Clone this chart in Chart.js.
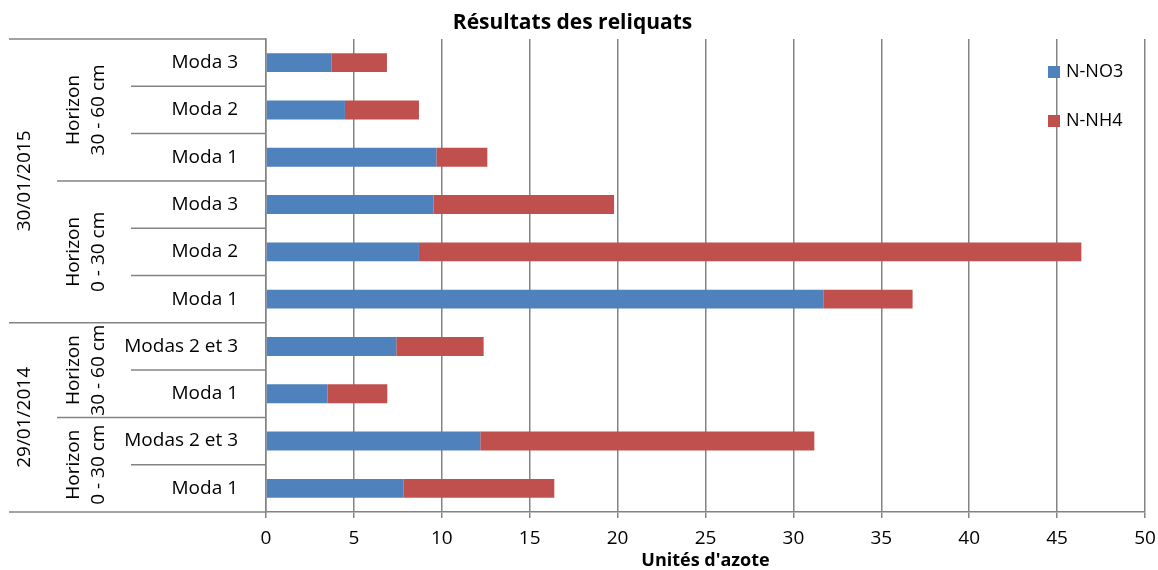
<!DOCTYPE html>
<html>
<head>
<meta charset="utf-8">
<script src="https://cdn.jsdelivr.net/npm/chart.js@4.4.0/dist/chart.umd.min.js"></script>
<style>
  body { margin: 0; background: #fff; }
  #wrap { width: 1158px; height: 570px; }
</style>
</head>
<body>
<div id="wrap"><canvas id="chart"></canvas></div>
<script>
// Données (de haut en bas)
const categories = ['Moda 3', 'Moda 2', 'Moda 1', 'Moda 3', 'Moda 2', 'Moda 1',
  'Modas 2 et 3', 'Moda 1', 'Modas 2 et 3', 'Moda 1'];
const no3 = [3.74, 4.49, 9.69, 9.52, 8.70, 31.70, 7.41, 3.49, 12.19, 7.81];
const nh4 = [3.14, 4.21, 2.90, 10.28, 37.68, 5.08, 4.97, 3.41, 19.00, 8.59];

// Niveaux de regroupement de l'axe vertical
const horizonLabels = [['Horizon', '30 - 60 cm'], ['Horizon', '0 - 30 cm'], ['Horizon', '30 - 60 cm'], ['Horizon', '0 - 30 cm']];
const horizonCounts = [3, 3, 2, 2];
const dateLabels = ['30/01/2015', '29/01/2014'];
const dateCounts = [6, 4];

const xTicks = [0, 5, 10, 15, 20, 25, 30, 35, 40, 45, 50];

const FONT = 'Open Sans';
const GRID = '#838383';

// Étiquettes multi-niveaux + légende
const groupPlugin = {
  id: 'groupLabels',
  afterDraw(chart) {
    const ctx = chart.ctx;
    const area = chart.chartArea;
    const rowH = (area.bottom - area.top) / categories.length;
    const axisX = area.left;

    ctx.save();
    ctx.strokeStyle = GRID;
    ctx.lineWidth = 1.5;

    function hline(y, x0) {
      ctx.beginPath();
      ctx.moveTo(x0, y);
      ctx.lineTo(axisX, y);
      ctx.stroke();
    }

    // lignes de séparation
    const dateBounds = [0];
    dateCounts.forEach(c => dateBounds.push(dateBounds[dateBounds.length - 1] + c));
    const horBounds = [0];
    horizonCounts.forEach(c => horBounds.push(horBounds[horBounds.length - 1] + c));

    for (let i = 0; i <= categories.length; i++) {
      const y = area.top + i * rowH;
      if (dateBounds.includes(i)) hline(y, 9);
      else if (horBounds.includes(i)) hline(y, 57);
      else hline(y, 131);
    }

    ctx.fillStyle = '#000';
    ctx.font = '19px "' + FONT + '"';
    ctx.textAlign = 'center';
    ctx.textBaseline = 'middle';

    // horizons
    let start = 0;
    horizonLabels.forEach((lines, k) => {
      const cy = area.top + (start + horizonCounts[k] / 2) * rowH;
      ctx.save();
      ctx.translate(86, cy);
      ctx.rotate(-Math.PI / 2);
      ctx.fillText(lines[0], 0, -12.5);
      ctx.fillText(lines[1], 0, 12.5);
      ctx.restore();
      start += horizonCounts[k];
    });

    // dates
    start = 0;
    dateLabels.forEach((d, k) => {
      const cy = area.top + (start + dateCounts[k] / 2) * rowH;
      ctx.save();
      ctx.translate(25, cy);
      ctx.rotate(-Math.PI / 2);
      ctx.fillText(d, 0, 0);
      ctx.restore();
      start += dateCounts[k];
    });

    // légende
    const legY = [72, 121];
    ctx.font = '18px "' + FONT + '"';
    ctx.textAlign = 'left';
    chart.data.datasets.forEach((ds, i) => {
      ctx.fillStyle = ds.backgroundColor;
      ctx.fillRect(1048, legY[i] - 6, 12, 12);
      ctx.fillStyle = '#000';
      ctx.fillText(ds.label, 1066, legY[i]);
    });

    ctx.restore();
  }
};

new Chart(document.getElementById('chart'), {
  type: 'bar',
  data: {
    labels: categories,
    datasets: [
      { label: 'N-NO3', data: no3, backgroundColor: '#4F81BD', borderWidth: 0 },
      { label: 'N-NH4', data: nh4, backgroundColor: '#C0504D', borderWidth: 0 }
    ]
  },
  options: {
    indexAxis: 'y',
    responsive: true,
    maintainAspectRatio: false,
    animation: false,
    layout: { padding: { left: 0, right: 13, top: 0, bottom: 0 } },
    datasets: { bar: { barPercentage: 0.4, categoryPercentage: 1 } },
    plugins: {
      legend: { display: false },
      tooltip: { enabled: false },
      title: {
        display: true,
        text: 'Résultats des reliquats',
        color: '#000',
        font: { family: FONT, size: 21, weight: 'bold' },
        padding: { top: 10, bottom: 3.8 }
      }
    },
    scales: {
      x: {
        stacked: true,
        min: 0,
        max: 50,
        afterBuildTicks: s => { s.ticks = xTicks.map(v => ({ value: v })); },
        afterFit: s => { s.height = 58; s.paddingRight = 0; s.paddingLeft = 0; },
        grid: { color: GRID, lineWidth: 1.5, tickLength: 6 },
        border: { display: true, color: GRID, width: 1.5 },
        ticks: { color: '#000', padding: 9, font: { family: FONT, size: 19 } },
        title: {
          display: true,
          text: "Unités d'azote",
          color: '#000',
          font: { family: FONT, size: 18, weight: 'bold', lineHeight: 1 },
          padding: { top: 0, bottom: 0 }
        }
      },
      y: {
        stacked: true,
        afterFit: s => { s.width = 266; },
        grid: { display: false },
        border: { display: true, color: GRID, width: 1.5 },
        ticks: { color: '#000', padding: 20, font: { family: FONT, size: 19 } }
      }
    }
  },
  plugins: [groupPlugin]
});
</script>
</body>
</html>
